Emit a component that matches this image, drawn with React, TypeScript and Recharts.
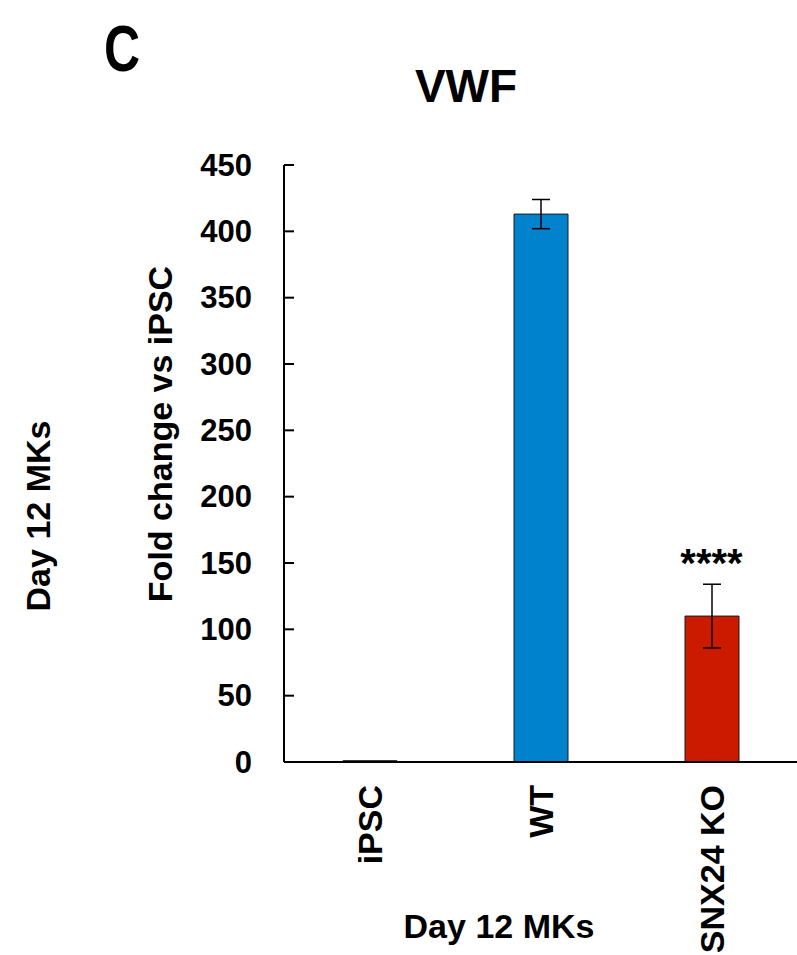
import { BarChart, Bar, XAxis, YAxis, Cell, ErrorBar, ReferenceDot } from 'recharts';

const categories = ['iPSC', 'WT', 'SNX24 KO'];
const foldChange = [1, 413, 110];
const errors = [0, 11, 24];
const barColors = ['#8c8c8c', '#0082cc', '#cc1a00'];
const yTicks = [0, 50, 100, 150, 200, 250, 300, 350, 400, 450];
const significance = '****';

const FONT = '"Liberation Sans", Arial, sans-serif';

const data = categories.map((name, i) => ({
  name,
  value: foldChange[i],
  err: errors[i],
}));

function YTick({ x, y, payload }: any) {
  return (
    <g>
      <line x1={x} y1={y} x2={x + 10} y2={y} stroke="#000" strokeWidth={2} />
      <text
        x={x - 32}
        y={y}
        textAnchor="end"
        dominantBaseline="central"
        fontFamily={FONT}
        fontWeight="bold"
        fontSize={31}
        fill="#000"
      >
        {payload.value}
      </text>
    </g>
  );
}

function XTick({ x, y, payload }: any) {
  const ty = y + 23;
  return (
    <text
      x={x}
      y={ty}
      transform={`rotate(-90, ${x}, ${ty})`}
      textAnchor="end"
      dominantBaseline="central"
      fontFamily={FONT}
      fontWeight="bold"
      fontSize={34}
      fill="#000"
    >
      {payload.value}
    </text>
  );
}

const textBase = {
  position: 'absolute' as const,
  fontFamily: FONT,
  fontWeight: 'bold' as const,
  color: '#000',
  whiteSpace: 'nowrap' as const,
  lineHeight: 1,
};

export default function App() {
  return (
    <div style={{ position: 'absolute', left: 0, top: 0, width: 797, height: 955, background: '#fff' }}>
      <BarChart
        width={797}
        height={955}
        data={data}
        margin={{ top: 165, right: 0, bottom: 0, left: 134 }}
      >
        <XAxis
          dataKey="name"
          height={193}
          axisLine={{ stroke: '#000', strokeWidth: 2 }}
          tickLine={false}
          tickSize={0}
          tickMargin={0}
          tick={<XTick />}
          interval={0}
        />
        <YAxis
          width={150}
          domain={[0, 450]}
          ticks={yTicks}
          axisLine={{ stroke: '#000', strokeWidth: 2 }}
          tickLine={false}
          tickSize={0}
          tickMargin={0}
          tick={<YTick />}
          interval={0}
        />
        <Bar dataKey="value" barSize={54} stroke="#1a1a1a" strokeWidth={1} isAnimationActive={false}>
          {data.map((d, i) => (
            <Cell key={d.name} fill={barColors[i]} />
          ))}
          <ErrorBar dataKey="err" width={9} stroke="#000" strokeWidth={1.5} />
        </Bar>
        <ReferenceDot
          x={categories[2]}
          y={foldChange[2] + errors[2]}
          r={1}
          fill="none"
          stroke="none"
          label={{
            value: significance,
            position: 'top',
            offset: 6,
            fill: '#000',
            fontSize: 40,
            fontWeight: 'bold',
            fontFamily: FONT,
          }}
        />
      </BarChart>

      <div style={{ ...textBase, left: 104, top: 17, fontSize: 64, transform: 'scaleX(0.78)', transformOrigin: 'left top' }}>C</div>
      <div style={{ ...textBase, left: 466, top: 63, fontSize: 46, transform: 'translateX(-50%)' }}>VWF</div>
      <div
        style={{
          ...textBase,
          left: 160,
          top: 434,
          fontSize: 34,
          transform: 'translate(-50%, -50%) rotate(-90deg)',
        }}
      >
        Fold change vs iPSC
      </div>
      <div
        style={{
          ...textBase,
          left: 38,
          top: 516,
          fontSize: 34,
          transform: 'translate(-50%, -50%) rotate(-90deg)',
        }}
      >
        Day 12 MKs
      </div>
      <div style={{ ...textBase, left: 499, top: 909, fontSize: 34, transform: 'translateX(-50%)' }}>Day 12 MKs</div>
    </div>
  );
}
